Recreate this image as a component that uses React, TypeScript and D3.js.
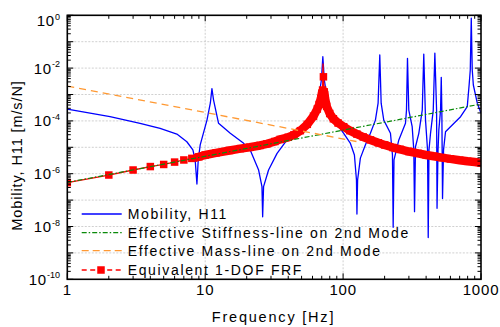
import React from "react";
import * as d3 from "d3";

// ---------- data ----------
// Mobility H11 : frequency [Hz] and log10 of |H11| [m/s/N]
const blueFreq = [1, 2.04, 3.37, 4.71, 6.23, 7.36, 8.14, 8.46, 8.71, 8.9, 9.2, 10.3, 10.9, 11.19, 11.5, 12.5, 15.2, 19.0, 21.2, 24.4, 25.8, 26.1, 26.5, 28.8, 33.2, 39.2, 48.9, 57.9, 66.2, 69.6, 71.3, 73.1, 76.9, 87.9, 101, 112.7, 120.8, 125, 126, 127.4, 133.4, 145, 157.8, 171.5, 179.4, 184.5, 188.8, 197.2, 220.5, 228, 230.7, 233.9, 253.6, 283.4, 288.2, 293, 299.5, 316.9, 325.6, 329.6, 335, 354, 375, 384.6, 396, 409.6, 414.3, 419.6, 430.5, 450.6, 462.8, 476.3, 480, 488, 494.6, 509, 515, 520, 526, 535, 553, 601, 711, 795, 820, 836, 850, 864, 880, 940, 1000];
const blueLog = [-3.55, -3.84, -4.09, -4.28, -4.5, -4.79, -5.1, -5.48, -6.39, -5.48, -4.91, -3.97, -3.32, -2.78, -3.21, -4.09, -4.47, -4.85, -5.1, -5.86, -6.49, -7.63, -6.49, -5.86, -5.23, -4.72, -4.27, -3.89, -3.21, -2.45, -1.57, -2.45, -3.21, -4.04, -4.47, -4.84, -5.29, -6.24, -7.53, -6.24, -5.41, -4.91, -4.47, -3.97, -3.33, -1.5, -3.33, -3.97, -4.47, -5.29, -8.03, -5.48, -4.72, -4.09, -3.59, -1.63, -3.59, -4.22, -5.1, -7.44, -4.98, -4.47, -3.59, -1.47, -3.97, -5.1, -8.42, -5.1, -4.47, -3.59, -1.43, -3.59, -7.31, -5.1, -4.34, -3.59, -2.35, -3.59, -6.94, -5.1, -4.41, -4.22, -3.84, -3.46, -2.64, -2.07, -0.11, -2.07, -2.64, -3.33, -3.71];

// Equivalent 1-DOF FRF
const redFreq = [1, 2, 3, 4, 5, 6, 7, 8, 9, 10, 12, 15, 18, 21, 25, 28, 32, 35, 40, 44, 49, 55, 61, 65, 67, 69, 70, 71, 71.5, 72, 73, 74, 76, 80, 85, 92, 101, 112, 126, 140, 158, 180, 200, 230, 260, 300, 350, 400, 455, 520, 600, 700, 800, 900, 1000];
const redLog = [-6.34, -6.05, -5.86, -5.73, -5.65, -5.56, -5.48, -5.42, -5.36, -5.29, -5.21, -5.12, -5.05, -5.0, -4.93, -4.87, -4.78, -4.7, -4.62, -4.53, -4.37, -4.13, -3.82, -3.55, -3.38, -3.15, -2.98, -2.83, -1.83, -2.33, -2.9, -3.15, -3.45, -3.72, -3.92, -4.08, -4.22, -4.37, -4.5, -4.61, -4.72, -4.83, -4.91, -5.01, -5.08, -5.16, -5.23, -5.29, -5.34, -5.39, -5.44, -5.49, -5.53, -5.56, -5.59];

// Effective stiffness line (green) and mass line (orange): end points
const stiffFreq = [1, 1000];
const stiffLog = [-6.33, -3.36];
const massFreq = [1, 125];
const massLog = [-2.68, -4.78];

const xTickValues = [1, 10, 100, 1000];
const yTickExponents = [0, -2, -4, -6, -8, -10];
const yGridExponents = [-1, -2, -3, -4, -5, -6, -7, -8, -9];
const xGridValues = [10, 100];

const legendLabels = [
  "Mobility, H11",
  "Effective Stiffness-line on 2nd Mode",
  "Effective Mass-line on 2nd Mode",
  "Equivalent 1-DOF FRF",
];

// ---------- layout ----------
const W = 500;
const H = 327;
const X0 = 67.3;
const X1 = 481;
const Y0 = 15.3;
const Y1 = 279.3;
const FONT = "'Liberation Sans', Arial, Helvetica, sans-serif";

const BLUE = "#0000ff";
const GREEN = "#0a8a0a";
const ORANGE = "#ff9933";
const RED = "#ff0000";

export default function App() {
  const x = d3.scaleLog().domain([1, 1000]).range([X0, X1]);
  const y = d3.scaleLog().domain([1e-10, 1]).range([Y1, Y0]);

  const toPts = (fs: number[], ls: number[]) =>
    fs.map((f, i) => [f, Math.pow(10, ls[i])] as [number, number]);

  const line = d3
    .line<[number, number]>()
    .x((d) => x(d[0]))
    .y((d) => y(d[1]));

  const bluePts = toPts(blueFreq, blueLog);
  const redPts = toPts(redFreq, redLog);
  const stiffPts = toPts(stiffFreq, stiffLog);
  const massPts = toPts(massFreq, massLog);

  const redMaxLog = Math.max(...redLog);
  const bandPts = redPts.filter((d, i) => redFreq[i] >= 9 && redLog[i] <= -2.8);
  const markerPts = redPts.filter((d, i) => redLog[i] !== redMaxLog);

  // ticks
  const xMinor: number[] = [];
  for (let dec = 1; dec < 1000; dec *= 10)
    for (let k = 2; k <= 9; k++) xMinor.push(dec * k);
  const yMajor: number[] = [];
  const yMinor: number[] = [];
  for (let e = -10; e <= 0; e++) yMajor.push(Math.pow(10, e));
  for (let e = -10; e < 0; e++)
    for (let k = 2; k <= 9; k++) yMinor.push(k * Math.pow(10, e));

  const MAJ = 6;
  const MIN = 3.5;
  const MS = 7.5; // marker size

  const legendY = [214, 232.7, 250.7, 270];
  const lgX0 = 81.7;
  const lgX1 = 121.7;
  const lgText = 127.7;

  return (
    <svg
      width={W}
      height={H}
      viewBox={`0 0 ${W} ${H}`}
      style={{ position: "absolute", left: 0, top: 0, background: "#fff" }}
      fontFamily={FONT}
    >
      <defs>
        <clipPath id="plotClip">
          <rect x={X0} y={Y0} width={X1 - X0} height={Y1 - Y0} />
        </clipPath>
      </defs>
      <rect x={0} y={0} width={W} height={H} fill="#fff" />

      {/* grid */}
      <g stroke="#c4c4c4" strokeWidth={0.8} strokeDasharray="2,1.5">
        {yGridExponents.map((e) => (
          <line key={"gy" + e} x1={X0} x2={X1} y1={y(Math.pow(10, e))} y2={y(Math.pow(10, e))} />
        ))}
        {xGridValues.map((v) => (
          <line key={"gx" + v} x1={x(v)} x2={x(v)} y1={Y0} y2={Y1} />
        ))}
      </g>

      {/* curves */}
      <g clipPath="url(#plotClip)">
        <path d={line(bluePts) || ""} fill="none" stroke={BLUE} strokeWidth={1.3} strokeLinejoin="round" />
        <path d={line(bandPts) || ""} fill="none" stroke={RED} strokeWidth={8.5} strokeLinejoin="bevel" strokeLinecap="square" />
        <path d={line(redPts) || ""} fill="none" stroke={RED} strokeWidth={1.3} />
        {markerPts.map((d, i) => (
          <rect key={"m" + i} x={x(d[0]) - MS / 2} y={y(d[1]) - MS / 2} width={MS} height={MS} fill={RED} />
        ))}
        <path d={line(stiffPts) || ""} fill="none" stroke={GREEN} strokeWidth={1.2} strokeDasharray="5,2,1.5,2" />
        <path d={line(massPts) || ""} fill="none" stroke={ORANGE} strokeWidth={1.3} strokeDasharray="7,5" />
      </g>

      {/* ticks */}
      <g stroke="#000" strokeWidth={1}>
        {xTickValues.map((v) => (
          <g key={"xM" + v}>
            <line x1={x(v)} x2={x(v)} y1={Y1} y2={Y1 - MAJ} />
            <line x1={x(v)} x2={x(v)} y1={Y0} y2={Y0 + MAJ} />
          </g>
        ))}
        {xMinor.map((v) => (
          <g key={"xm" + v}>
            <line x1={x(v)} x2={x(v)} y1={Y1} y2={Y1 - MIN} />
            <line x1={x(v)} x2={x(v)} y1={Y0} y2={Y0 + MIN} />
          </g>
        ))}
        {yMajor.map((v, i) => (
          <g key={"yM" + i}>
            <line x1={X0} x2={X0 + MAJ} y1={y(v)} y2={y(v)} />
            <line x1={X1} x2={X1 - MAJ} y1={y(v)} y2={y(v)} />
          </g>
        ))}
        {yMinor.map((v, i) => (
          <g key={"ym" + i}>
            <line x1={X0} x2={X0 + MIN} y1={y(v)} y2={y(v)} />
            <line x1={X1} x2={X1 - MIN} y1={y(v)} y2={y(v)} />
          </g>
        ))}
      </g>

      {/* frame */}
      <rect x={X0} y={Y0} width={X1 - X0} height={Y1 - Y0} fill="none" stroke="#000" strokeWidth={1.6} />

      {/* x tick labels */}
      {xTickValues.map((v) => (
        <text key={"xl" + v} x={x(v)} y={295} textAnchor="middle" fontSize={15} letterSpacing={0.8} fill="#000">
          {String(v)}
        </text>
      ))}

      {/* y tick labels */}
      {yTickExponents.map((e) => {
        const yy = y(Math.pow(10, e)) + (e === 0 ? 11 : 5.5);
        return (
          <text key={"yl" + e} x={60} y={yy} textAnchor="end" fontSize={15} letterSpacing={0.8} fill="#000">
            10
            <tspan dy={-6.5} fontSize={9} letterSpacing={0}>
              {String(e)}
            </tspan>
          </text>
        );
      })}

      {/* axis titles */}
      <text x={273.5} y={322} textAnchor="middle" fontSize={14.5} letterSpacing={1.8} fill="#000">
        Frequency [Hz]
      </text>
      <text
        transform={`translate(21.5, ${155.5}) rotate(-90)`}
        textAnchor="middle"
        fontSize={14.5}
        letterSpacing={0.9}
        fill="#000"
      >
        Mobility, H11 [m/s/N]
      </text>

      {/* legend */}
      <g>
        <line x1={lgX0} x2={lgX1} y1={legendY[0]} y2={legendY[0]} stroke={BLUE} strokeWidth={1.3} />
        <line x1={lgX0} x2={lgX1} y1={legendY[1]} y2={legendY[1]} stroke={GREEN} strokeWidth={1.2} strokeDasharray="5,2,1.5,2" />
        <line x1={lgX0} x2={lgX1} y1={legendY[2]} y2={legendY[2]} stroke={ORANGE} strokeWidth={1.3} strokeDasharray="7,4" />
        <line x1={lgX0} x2={lgX1} y1={legendY[3]} y2={legendY[3]} stroke={RED} strokeWidth={1.3} strokeDasharray="5,3.5" />
        <rect x={(lgX0 + lgX1) / 2 - MS / 2 - 0.7} y={legendY[3] - MS / 2} width={MS} height={MS} fill={RED} />
        {legendLabels.map((t, i) => (
          <text key={"lg" + i} x={lgText} y={legendY[i] + 5} fontSize={14} letterSpacing={1.65} fill="#000">
            {t}
          </text>
        ))}
      </g>
    </svg>
  );
}
